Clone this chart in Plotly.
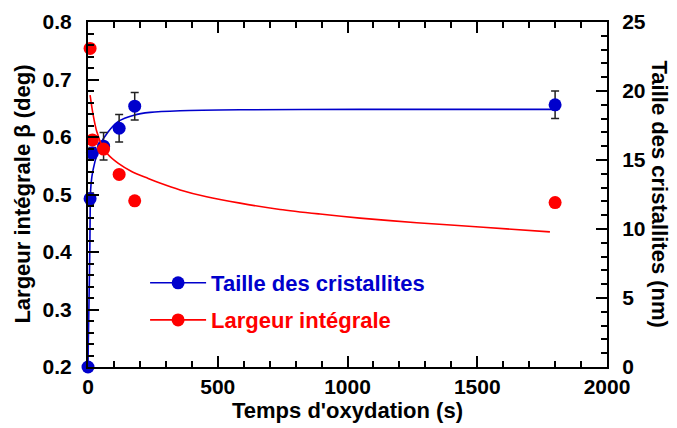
""" Crystallite size and integral breadth versus oxidation time. """

import plotly.graph_objects as go

# measured points (time in s)
taille_time = [0, 8, 17, 60, 120, 180, 1800]
taille_nm = [0, 12.2, 15.5, 16.0, 17.3, 18.9, 19.0]
taille_err = [0, 0.4, 0.4, 1.0, 1.0, 1.0, 1.0]

largeur_time = [8, 17, 60, 120, 180, 1800]
largeur_deg = [0.754, 0.595, 0.579, 0.535, 0.489, 0.486]

# fitted curves
fit_taille_time = [0, 1, 4, 7, 10, 15, 27, 46, 78, 117, 177, 239, 355, 586, 1048, 1800]
fit_taille_nm = [0, 1.5, 4.9, 8.5, 12.8, 13.8, 14.9, 16.1, 17.05, 17.8, 18.25,
                 18.45, 18.57, 18.64, 18.67, 18.67]

fit_largeur_time = [8, 20, 34, 53, 78, 117, 168, 232, 277, 355, 457, 586, 740,
                    894, 1048, 1267, 1523, 1780]
fit_largeur_deg = [0.673, 0.638, 0.609, 0.586, 0.569, 0.554, 0.540, 0.528, 0.520,
                   0.508, 0.496, 0.485, 0.474, 0.466, 0.459, 0.451, 0.443, 0.435]

BLUE = "#0000cc"
RED = "#ff0000"
FONT = "Liberation Sans, Arial, sans-serif"

fig = go.Figure()

# blue series on right axis (y), red on left axis (y2) so red draws on top
fig.add_trace(go.Scatter(
    x=fit_taille_time, y=fit_taille_nm, mode="lines",
    line={"color": BLUE, "width": 1.6, "shape": "spline", "smoothing": 0.6},
    yaxis="y", showlegend=False,
))
fig.add_trace(go.Scatter(
    x=taille_time, y=taille_nm, mode="markers",
    marker={"color": BLUE, "size": 13},
    error_y={"type": "data", "array": taille_err, "color": "#222222",
             "thickness": 1.5, "width": 4},
    yaxis="y", cliponaxis=False, showlegend=False,
))
fig.add_trace(go.Scatter(
    x=fit_largeur_time, y=fit_largeur_deg, mode="lines",
    line={"color": RED, "width": 1.6, "shape": "spline", "smoothing": 0.8},
    yaxis="y2", showlegend=False,
))
fig.add_trace(go.Scatter(
    x=largeur_time, y=largeur_deg, mode="markers",
    marker={"color": RED, "size": 13},
    yaxis="y2", cliponaxis=False, showlegend=False,
))

# legend entries
fig.add_trace(go.Scatter(
    x=[None], y=[None], mode="lines+markers", name="Taille des cristallites",
    line={"color": BLUE, "width": 1.6}, marker={"color": BLUE, "size": 13},
    legend="legend",
))
fig.add_trace(go.Scatter(
    x=[None], y=[None], mode="lines+markers", name="Largeur intégrale",
    line={"color": RED, "width": 1.6}, marker={"color": RED, "size": 13},
    yaxis="y2", legend="legend2",
))

tick_font = {"family": FONT, "size": 21, "color": "black", "weight": "bold"}
title_font = {"family": FONT, "size": 22, "color": "black", "weight": "bold"}
axis_common = {
    "showline": True, "linecolor": "black", "linewidth": 2,
    "ticks": "inside", "ticklen": 11, "tickwidth": 2, "tickcolor": "black",
    "showgrid": False, "zeroline": False, "tickfont": tick_font,
    "automargin": False,
}

# the page body adds an 8 px offset, so the figure is 8 px smaller
fig.update_layout(
    width=669, height=420,
    margin={"l": 80, "r": 70, "t": 14, "b": 61},
    paper_bgcolor="white", plot_bgcolor="white",
    xaxis={
        **axis_common, "range": [0, 2000], "dtick": 500, "mirror": "ticks",
        "ticklabelstandoff": 0,
        "minor": {"dtick": 100, "ticks": "inside", "ticklen": 6,
                  "tickwidth": 2, "tickcolor": "black"},
        "title": {"text": "Temps d'oxydation (s)", "standoff": 0,
                  "font": title_font},
    },
    yaxis={
        **axis_common, "range": [0, 25], "dtick": 5, "side": "right",
        "ticklabelstandoff": 9,
        "minor": {"dtick": 1, "ticks": "inside", "ticklen": 6,
                  "tickwidth": 2, "tickcolor": "black"},
    },
    yaxis2={
        **axis_common, "range": [0.2, 0.8], "dtick": 0.1, "side": "left",
        "overlaying": "y", "tickformat": ".1f", "ticklabelstandoff": 10,
        "minor": {"dtick": 0.02, "ticks": "inside", "ticklen": 6,
                  "tickwidth": 2, "tickcolor": "black"},
    },
    legend={
        "x": 0.11, "y": 0.2435, "xanchor": "left", "yanchor": "middle",
        "itemwidth": 56, "bgcolor": "rgba(0,0,0,0)",
        "font": {"family": FONT, "size": 22, "color": BLUE, "weight": "bold"},
    },
    legend2={
        "x": 0.11, "y": 0.136, "xanchor": "left", "yanchor": "middle",
        "itemwidth": 56, "bgcolor": "rgba(0,0,0,0)",
        "font": {"family": FONT, "size": 22, "color": RED, "weight": "bold"},
    },
    annotations=[
        {"text": "Largeur intégrale β (deg)", "textangle": -90,
         "xref": "paper", "yref": "paper", "x": -0.127, "y": 0.5,
         "xanchor": "center", "yanchor": "middle", "showarrow": False,
         "font": title_font},
        {"text": "Taille des cristallites (nm)", "textangle": 90,
         "xref": "paper", "yref": "paper", "x": 1.102, "y": 0.5,
         "xanchor": "center", "yanchor": "middle", "showarrow": False,
         "font": title_font},
    ],
)

fig.write_html("out.html")
